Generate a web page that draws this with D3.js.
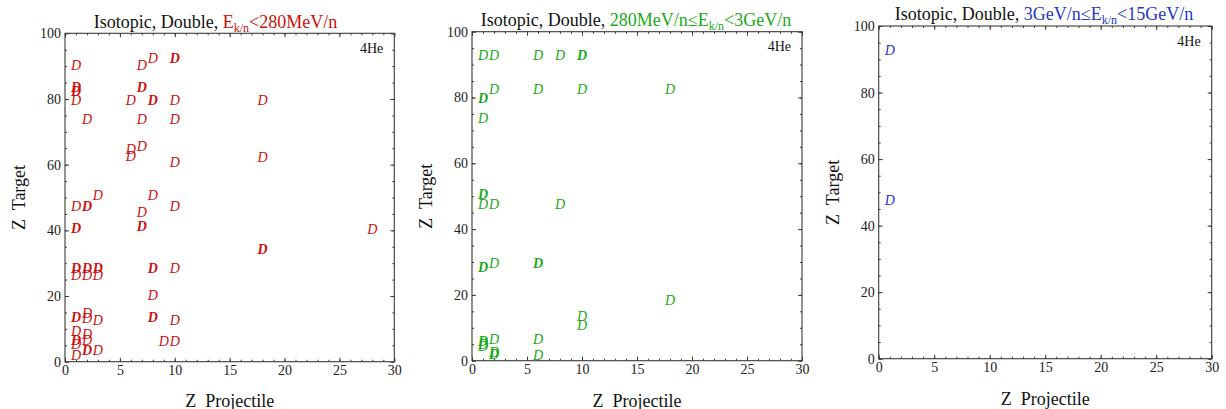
<!DOCTYPE html>
<html>
<head>
<meta charset="utf-8">
<script src="https://cdn.jsdelivr.net/npm/d3@7"></script>
<style>
  html, body { margin: 0; padding: 0; background: #fff; }
  svg { display: block; }
  svg text { font-family: "Liberation Serif", "Times New Roman", serif !important; }
</style>
</head>
<body>
<svg id="chart" width="1226" height="409"></svg>
<script>
// ---------------- DATA ----------------
// Panel 1: E_k/n < 280 MeV/n  (Z projectile, Z target, multiplicity of overlapping entries)
const lowProj = [1, 7, 8, 10, 1, 1, 7, 1, 6, 8, 10, 18, 2, 7, 10,
                 6, 6, 7, 10, 18, 1, 2, 3, 8, 7, 10, 1, 7, 28, 18,
                 1, 2, 3, 1, 2, 3, 8, 10, 8,
                 1, 2, 2, 3, 8, 10, 1, 2, 1, 1, 2, 9, 10, 2, 3, 1];
const lowTarg = [90.3, 90.3, 92.4, 92.4, 83.4, 82.4, 83.4, 79.4, 79.4, 79.4, 79.4, 79.4, 73.6, 73.6, 73.6,
                 64.7, 62.4, 65.5, 60.6, 62.2, 47.4, 47.4, 50.5, 50.5, 45.4, 47.4, 40.5, 41.3, 40.3, 34.3,
                 28.4, 28.4, 28.4, 26.4, 26.4, 26.4, 28.4, 28.4, 20.1,
                 13.5, 14.7, 13.3, 12.5, 13.5, 12.5, 9.3, 8.3, 6.6, 5.3, 6.6, 6.3, 6.3, 3.3, 3.3, 2.0];
const lowMult = [1, 1, 1, 2, 2, 2, 2, 1, 1, 2, 1, 1, 1, 1, 1,
                 1, 1, 1, 1, 1, 1, 2, 1, 1, 1, 1, 2, 2, 1, 2,
                 2, 2, 2, 1, 1, 1, 2, 1, 1,
                 2, 1, 1, 1, 2, 1, 1, 1, 2, 1, 1, 1, 1, 2, 1, 1];

// Panel 2: 280 MeV/n <= E_k/n < 3 GeV/n
const midProj = [1, 2, 6, 8, 10, 1, 2, 6, 10, 18, 1,
                 1, 1, 2, 8, 1, 2, 6, 10, 10, 18,
                 1, 1, 1, 2, 6, 2, 2, 6];
const midTarg = [92.7, 92.7, 92.7, 92.7, 92.7, 79.8, 82.5, 82.5, 82.5, 82.5, 73.7,
                 50.4, 47.6, 47.6, 47.6, 28.3, 29.4, 29.4, 13.4, 10.6, 18.4,
                 5.9, 5.0, 4.3, 6.3, 6.3, 2.5, 1.8, 1.7];
const midMult = [1, 1, 1, 1, 2, 2, 1, 1, 1, 1, 1,
                 2, 1, 1, 1, 2, 1, 2, 1, 1, 1,
                 2, 1, 1, 1, 1, 1, 2, 1];

// Panel 3: 3 GeV/n <= E_k/n < 15 GeV/n
const highProj = [1, 1];
const highTarg = [92.6, 47.7];
const highMult = [1, 1];

const xTicks = [0, 5, 10, 15, 20, 25, 30];
const yTicks = [0, 20, 40, 60, 80, 100];
const xDomain = [0, 30];
const yDomain = [0, 100];

const titlePrefix = "Isotopic, Double, ";
const energyLabels = [
  ["E", "k/n", "<280MeV/n"],
  ["280MeV/n\u2264E", "k/n", "<3GeV/n"],
  ["3GeV/n\u2264E", "k/n", "<15GeV/n"]
];
const markerText = "D";
const cornerLabel = "4He";
const xLabel = "Z  Projectile";
const yLabel = "Z  Target";
const seriesColors = ["#cc1010", "#18aa18", "#2536c8"];

// ---------------- LAYOUT ----------------
const layout = [
  { left: 65,    right: 394.3,  top: 33.3, bottom: 361.7, titleX: 215.5, titleY: 28,   xlabY: 406.5 },
  { left: 472,   right: 802,    top: 31.7, bottom: 360.7, titleX: 636,   titleY: 26,   xlabY: 406.5 },
  { left: 878.7, right: 1211.7, top: 26,   bottom: 358.7, titleX: 1044,  titleY: 19.5, xlabY: 405 }
];

const series = [
  { proj: lowProj,  targ: lowTarg,  mult: lowMult },
  { proj: midProj,  targ: midTarg,  mult: midMult },
  { proj: highProj, targ: highTarg, mult: highMult }
];

const FONT = '"Liberation Serif", "Times New Roman", serif';
const svg = d3.select("#chart");
const frameColor = "#3a3a3a";

layout.forEach((L, i) => {
  const x = d3.scaleLinear().domain(xDomain).range([L.left, L.right]);
  const y = d3.scaleLinear().domain(yDomain).range([L.bottom, L.top]);
  const g = svg.append("g");
  const color = seriesColors[i];

  const xMinor = d3.range(xDomain[0], xDomain[1] + 1, 1);
  const yMinor = d3.range(yDomain[0], yDomain[1] + 1, 5);

  const styleAxis = sel => {
    sel.attr("font-family", FONT).attr("font-size", 14);
    sel.select(".domain").remove();
    sel.selectAll("line").attr("stroke", frameColor).attr("stroke-width", 1);
    sel.selectAll("text").attr("font-size", 14).attr("fill", "#222").attr("font-family", FONT);
  };

  // bottom
  g.append("g").attr("transform", `translate(0,${L.bottom})`)
    .call(d3.axisBottom(x).tickValues(xMinor).tickSize(-2).tickFormat(""))
    .call(styleAxis);
  g.append("g").attr("transform", `translate(0,${L.bottom})`)
    .call(d3.axisBottom(x).tickValues(xTicks).tickSize(-4).tickPadding(3.5).tickFormat(d3.format("d")))
    .call(styleAxis);
  // top
  g.append("g").attr("transform", `translate(0,${L.top})`)
    .call(d3.axisTop(x).tickValues(xMinor).tickSize(-2).tickFormat(""))
    .call(styleAxis);
  g.append("g").attr("transform", `translate(0,${L.top})`)
    .call(d3.axisTop(x).tickValues(xTicks).tickSize(-4).tickFormat(""))
    .call(styleAxis);
  // left
  g.append("g").attr("transform", `translate(${L.left},0)`)
    .call(d3.axisLeft(y).tickValues(yMinor).tickSize(-2).tickFormat(""))
    .call(styleAxis);
  g.append("g").attr("transform", `translate(${L.left},0)`)
    .call(d3.axisLeft(y).tickValues(yTicks).tickSize(-4).tickPadding(4).tickFormat(d3.format("d")))
    .call(styleAxis);
  // right
  g.append("g").attr("transform", `translate(${L.right},0)`)
    .call(d3.axisRight(y).tickValues(yMinor).tickSize(-2).tickFormat(""))
    .call(styleAxis);
  g.append("g").attr("transform", `translate(${L.right},0)`)
    .call(d3.axisRight(y).tickValues(yTicks).tickSize(-4).tickFormat(""))
    .call(styleAxis);

  // frame
  g.append("rect")
    .attr("x", L.left).attr("y", L.top)
    .attr("width", L.right - L.left).attr("height", L.bottom - L.top)
    .attr("fill", "none").attr("stroke", frameColor).attr("stroke-width", 1.1);

  // markers
  const s = series[i];
  const pts = s.proj.map((p, k) => ({ p, t: s.targ[k], m: s.mult[k] }));
  g.append("g").selectAll("text").data(pts).join("text")
    .attr("x", d => x(d.p))
    .attr("y", d => y(d.t))
    .attr("text-anchor", "middle")
    .attr("dominant-baseline", "central")
    .attr("font-family", FONT)
    .attr("font-size", 14)
    .attr("font-style", "italic")
    .attr("font-weight", d => d.m > 1 ? "bold" : "normal")
    .attr("fill", color)
    .text(markerText);

  // corner label
  g.append("text")
    .attr("x", L.right - 11).attr("y", L.top + 19.5)
    .attr("text-anchor", "end").attr("font-size", 14).attr("fill", "#111")
    .attr("font-family", FONT)
    .text(cornerLabel);

  // title
  const t = g.append("text")
    .attr("x", L.titleX).attr("y", L.titleY)
    .attr("text-anchor", "middle").attr("font-size", 18).attr("fill", "#111")
    .attr("font-family", FONT);
  t.append("tspan").text(titlePrefix);
  const e = energyLabels[i];
  t.append("tspan").attr("fill", color).text(e[0]);
  t.append("tspan").attr("fill", color).attr("font-size", 12).attr("dy", 4).text(e[1]);
  t.append("tspan").attr("fill", color).attr("dy", -4).text(e[2]);

  // axis labels
  g.append("text")
    .attr("x", (L.left + L.right) / 2).attr("y", L.xlabY)
    .attr("text-anchor", "middle").attr("font-size", 18).attr("fill", "#111")
    .attr("font-family", FONT)
    .style("white-space", "pre")
    .text(xLabel);
  const cy = (L.top + L.bottom) / 2;
  g.append("text")
    .attr("transform", `translate(${L.left - 40},${cy}) rotate(-90)`)
    .attr("text-anchor", "middle").attr("font-size", 18).attr("fill", "#111")
    .attr("font-family", FONT)
    .style("white-space", "pre")
    .text(yLabel);
});
</script>
</body>
</html>
